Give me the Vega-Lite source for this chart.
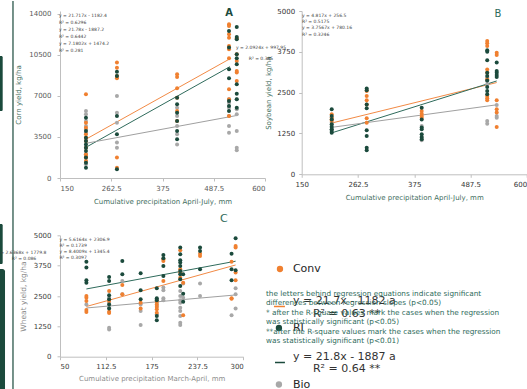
{
"$schema": "https://vega.github.io/schema/vega-lite/v6.json",
"padding": 0,
"autosize": {"type": "pad"},
"background": "white",
"bounds": "flush",
"align": "each",
"columns": 2,
"spacing": {"row": 57.3, "column": 36.7},
"config": {
  "font": "DejaVu Sans",
  "view": {"stroke": null},
  "axis": {"grid": false, "labelOverlap": false, "tickCount": 10, "domainColor": "#BFBFBF", "tickColor": "#BFBFBF", "tickSize": 3, "labelFontSize": 7, "titleFontSize": 7, "titleFontWeight": "normal", "labelFont": "DejaVu Sans", "titleFont": "DejaVu Sans"}
},
"datasets": {
"pts": [
{"p":"A","t":"Bio","x":207,"y":5720},{"p":"A","t":"Bio","x":207,"y":5440},{"p":"A","t":"Bio","x":207,"y":4870},{"p":"A","t":"Bio","x":207,"y":4440},{"p":"A","t":"Bio","x":207,"y":4150},{"p":"A","t":"Bio","x":207,"y":3870},{"p":"A","t":"Bio","x":207,"y":3160},{"p":"A","t":"Bio","x":207,"y":2590},{"p":"A","t":"Bio","x":207,"y":2020},{"p":"A","t":"Bio","x":207,"y":1450},{"p":"A","t":"Bio","x":207,"y":1170},
{"p":"A","t":"Bio","x":275,"y":7000},{"p":"A","t":"Bio","x":275,"y":5580},{"p":"A","t":"Bio","x":275,"y":4720},{"p":"A","t":"Bio","x":275,"y":3020},{"p":"A","t":"Bio","x":275,"y":2590},
{"p":"A","t":"Bio","x":407,"y":6000},{"p":"A","t":"Bio","x":407,"y":5290},{"p":"A","t":"Bio","x":407,"y":4440},{"p":"A","t":"Bio","x":407,"y":3730},{"p":"A","t":"Bio","x":407,"y":2870},
{"p":"A","t":"Bio","x":521,"y":6720},{"p":"A","t":"Bio","x":521,"y":6430},{"p":"A","t":"Bio","x":521,"y":6000},{"p":"A","t":"Bio","x":521,"y":5290},{"p":"A","t":"Bio","x":521,"y":4440},{"p":"A","t":"Bio","x":521,"y":3870},
{"p":"A","t":"Bio","x":538,"y":6720},{"p":"A","t":"Bio","x":538,"y":5860},{"p":"A","t":"Bio","x":538,"y":5440},{"p":"A","t":"Bio","x":538,"y":4010},{"p":"A","t":"Bio","x":538,"y":2590},{"p":"A","t":"Bio","x":538,"y":2360},
{"p":"A","t":"Conv","x":207,"y":7150},{"p":"A","t":"Conv","x":207,"y":4720},{"p":"A","t":"Conv","x":207,"y":4300},{"p":"A","t":"Conv","x":207,"y":3730},{"p":"A","t":"Conv","x":207,"y":3440},{"p":"A","t":"Conv","x":207,"y":3160},{"p":"A","t":"Conv","x":207,"y":2590},{"p":"A","t":"Conv","x":207,"y":2020},{"p":"A","t":"Conv","x":207,"y":1880},{"p":"A","t":"Conv","x":207,"y":1740},{"p":"A","t":"Conv","x":207,"y":1450},
{"p":"A","t":"Conv","x":275,"y":9850},{"p":"A","t":"Conv","x":275,"y":9420},{"p":"A","t":"Conv","x":275,"y":8710},{"p":"A","t":"Conv","x":275,"y":8510},{"p":"A","t":"Conv","x":275,"y":1740},{"p":"A","t":"Conv","x":275,"y":880},
{"p":"A","t":"Conv","x":407,"y":8850},{"p":"A","t":"Conv","x":407,"y":8620},{"p":"A","t":"Conv","x":407,"y":7660},{"p":"A","t":"Conv","x":407,"y":6860},{"p":"A","t":"Conv","x":407,"y":5720},{"p":"A","t":"Conv","x":407,"y":4870},
{"p":"A","t":"Conv","x":521,"y":13120},{"p":"A","t":"Conv","x":521,"y":12980},{"p":"A","t":"Conv","x":521,"y":12270},{"p":"A","t":"Conv","x":521,"y":11980},{"p":"A","t":"Conv","x":521,"y":11270},{"p":"A","t":"Conv","x":521,"y":10990},{"p":"A","t":"Conv","x":521,"y":10220},{"p":"A","t":"Conv","x":521,"y":7570},{"p":"A","t":"Conv","x":521,"y":6720},{"p":"A","t":"Conv","x":521,"y":5290},
{"p":"A","t":"Conv","x":538,"y":11920},{"p":"A","t":"Conv","x":538,"y":10560},{"p":"A","t":"Conv","x":538,"y":9990},{"p":"A","t":"Conv","x":538,"y":9140},{"p":"A","t":"Conv","x":538,"y":9000},{"p":"A","t":"Conv","x":538,"y":8280},
{"p":"A","t":"RI","x":207,"y":5150},{"p":"A","t":"RI","x":207,"y":4010},{"p":"A","t":"RI","x":207,"y":3440},{"p":"A","t":"RI","x":207,"y":3160},{"p":"A","t":"RI","x":207,"y":2870},{"p":"A","t":"RI","x":207,"y":2590},{"p":"A","t":"RI","x":207,"y":2300},{"p":"A","t":"RI","x":207,"y":1740},{"p":"A","t":"RI","x":207,"y":1310},{"p":"A","t":"RI","x":207,"y":880},
{"p":"A","t":"RI","x":275,"y":9080},{"p":"A","t":"RI","x":275,"y":8710},{"p":"A","t":"RI","x":275,"y":5290},{"p":"A","t":"RI","x":275,"y":3730},{"p":"A","t":"RI","x":275,"y":740},
{"p":"A","t":"RI","x":407,"y":6860},{"p":"A","t":"RI","x":407,"y":6290},{"p":"A","t":"RI","x":407,"y":5580},{"p":"A","t":"RI","x":407,"y":4870},{"p":"A","t":"RI","x":407,"y":4010},{"p":"A","t":"RI","x":407,"y":3300},
{"p":"A","t":"RI","x":521,"y":12550},{"p":"A","t":"RI","x":521,"y":11130},{"p":"A","t":"RI","x":521,"y":9280},{"p":"A","t":"RI","x":521,"y":8510},{"p":"A","t":"RI","x":521,"y":6570},{"p":"A","t":"RI","x":521,"y":6150},{"p":"A","t":"RI","x":521,"y":5720},
{"p":"A","t":"RI","x":538,"y":12890},{"p":"A","t":"RI","x":538,"y":12040},{"p":"A","t":"RI","x":538,"y":11840},{"p":"A","t":"RI","x":538,"y":10560},{"p":"A","t":"RI","x":538,"y":10220},{"p":"A","t":"RI","x":538,"y":9700},{"p":"A","t":"RI","x":538,"y":8000},{"p":"A","t":"RI","x":538,"y":7200},{"p":"A","t":"RI","x":538,"y":6720},{"p":"A","t":"RI","x":538,"y":6000},
{"p":"B","t":"Bio","x":210,"y":1735},{"p":"B","t":"Bio","x":210,"y":1580},{"p":"B","t":"Bio","x":210,"y":1480},{"p":"B","t":"Bio","x":210,"y":1380},
{"p":"B","t":"Bio","x":390,"y":1480},{"p":"B","t":"Bio","x":390,"y":1120},{"p":"B","t":"Bio","x":390,"y":1040},
{"p":"B","t":"Bio","x":521,"y":2960},{"p":"B","t":"Bio","x":521,"y":2855},{"p":"B","t":"Bio","x":521,"y":2755},{"p":"B","t":"Bio","x":521,"y":1630},{"p":"B","t":"Bio","x":521,"y":1550},
{"p":"B","t":"Bio","x":540,"y":2120},{"p":"B","t":"Bio","x":540,"y":1785},{"p":"B","t":"Bio","x":540,"y":1735},
{"p":"B","t":"Conv","x":210,"y":1835},{"p":"B","t":"Conv","x":210,"y":1735},{"p":"B","t":"Conv","x":210,"y":1680},{"p":"B","t":"Conv","x":210,"y":1630},
{"p":"B","t":"Conv","x":280,"y":2550},{"p":"B","t":"Conv","x":280,"y":2400},{"p":"B","t":"Conv","x":280,"y":2265},{"p":"B","t":"Conv","x":280,"y":2140},{"p":"B","t":"Conv","x":280,"y":1715},{"p":"B","t":"Conv","x":280,"y":1580},
{"p":"B","t":"Conv","x":390,"y":1940},{"p":"B","t":"Conv","x":390,"y":1855},{"p":"B","t":"Conv","x":390,"y":1785},{"p":"B","t":"Conv","x":390,"y":1735},
{"p":"B","t":"Conv","x":521,"y":4080},{"p":"B","t":"Conv","x":521,"y":4010},{"p":"B","t":"Conv","x":521,"y":3930},{"p":"B","t":"Conv","x":521,"y":3210},{"p":"B","t":"Conv","x":521,"y":3110},{"p":"B","t":"Conv","x":521,"y":2910},{"p":"B","t":"Conv","x":521,"y":2400},{"p":"B","t":"Conv","x":521,"y":2325},{"p":"B","t":"Conv","x":521,"y":2265},
{"p":"B","t":"Conv","x":540,"y":3725},{"p":"B","t":"Conv","x":540,"y":3650},{"p":"B","t":"Conv","x":540,"y":2265},{"p":"B","t":"Conv","x":540,"y":1990},{"p":"B","t":"Conv","x":540,"y":1890},{"p":"B","t":"Conv","x":540,"y":1450},
{"p":"B","t":"RI","x":210,"y":1990},{"p":"B","t":"RI","x":210,"y":1785},{"p":"B","t":"RI","x":210,"y":1680},{"p":"B","t":"RI","x":210,"y":1530},{"p":"B","t":"RI","x":210,"y":1450},{"p":"B","t":"RI","x":210,"y":1380},{"p":"B","t":"RI","x":210,"y":1325},{"p":"B","t":"RI","x":210,"y":1275},
{"p":"B","t":"RI","x":280,"y":2630},{"p":"B","t":"RI","x":280,"y":2570},{"p":"B","t":"RI","x":280,"y":2140},{"p":"B","t":"RI","x":280,"y":2020},{"p":"B","t":"RI","x":280,"y":1350},{"p":"B","t":"RI","x":280,"y":1170},{"p":"B","t":"RI","x":280,"y":815},{"p":"B","t":"RI","x":280,"y":735},
{"p":"B","t":"RI","x":390,"y":2040},{"p":"B","t":"RI","x":390,"y":1680},{"p":"B","t":"RI","x":390,"y":1430},{"p":"B","t":"RI","x":390,"y":1380},{"p":"B","t":"RI","x":390,"y":1225},{"p":"B","t":"RI","x":390,"y":1140},{"p":"B","t":"RI","x":390,"y":1070},
{"p":"B","t":"RI","x":521,"y":3795},{"p":"B","t":"RI","x":521,"y":3755},{"p":"B","t":"RI","x":521,"y":3490},{"p":"B","t":"RI","x":521,"y":3110},{"p":"B","t":"RI","x":521,"y":3010},{"p":"B","t":"RI","x":521,"y":2875},{"p":"B","t":"RI","x":521,"y":2670},{"p":"B","t":"RI","x":521,"y":2550},{"p":"B","t":"RI","x":521,"y":2450},
{"p":"B","t":"RI","x":540,"y":3420},{"p":"B","t":"RI","x":540,"y":3160},{"p":"B","t":"RI","x":540,"y":3110},{"p":"B","t":"RI","x":540,"y":3040},{"p":"B","t":"RI","x":540,"y":2980},
{"p":"C","t":"Bio","x":86,"y":2155},
{"p":"C","t":"Bio","x":117,"y":2430},{"p":"C","t":"Bio","x":117,"y":2225},{"p":"C","t":"Bio","x":117,"y":2020},{"p":"C","t":"Bio","x":117,"y":1195},{"p":"C","t":"Bio","x":117,"y":1125},
{"p":"C","t":"Bio","x":135,"y":3120},{"p":"C","t":"Bio","x":135,"y":2570},
{"p":"C","t":"Bio","x":160,"y":2155},{"p":"C","t":"Bio","x":160,"y":1880},{"p":"C","t":"Bio","x":160,"y":1305},
{"p":"C","t":"Bio","x":182,"y":2365},{"p":"C","t":"Bio","x":182,"y":2225},{"p":"C","t":"Bio","x":182,"y":2090},{"p":"C","t":"Bio","x":182,"y":1745},
{"p":"C","t":"Bio","x":191,"y":2845},{"p":"C","t":"Bio","x":191,"y":2735},{"p":"C","t":"Bio","x":191,"y":2405},{"p":"C","t":"Bio","x":191,"y":2320},
{"p":"C","t":"Bio","x":214,"y":2705},{"p":"C","t":"Bio","x":214,"y":2500},{"p":"C","t":"Bio","x":214,"y":2320},{"p":"C","t":"Bio","x":214,"y":2225},{"p":"C","t":"Bio","x":214,"y":2020},{"p":"C","t":"Bio","x":214,"y":1880},{"p":"C","t":"Bio","x":214,"y":1675},{"p":"C","t":"Bio","x":214,"y":1400},{"p":"C","t":"Bio","x":214,"y":1305},
{"p":"C","t":"Bio","x":218,"y":3010},{"p":"C","t":"Bio","x":218,"y":2430},
{"p":"C","t":"Bio","x":241,"y":3010},{"p":"C","t":"Bio","x":241,"y":2500},
{"p":"C","t":"Bio","x":284,"y":1705},
{"p":"C","t":"Bio","x":289.5,"y":2815},{"p":"C","t":"Bio","x":289.5,"y":2570},{"p":"C","t":"Bio","x":289.5,"y":1990},
{"p":"C","t":"Conv","x":86,"y":2500},{"p":"C","t":"Conv","x":86,"y":2430},{"p":"C","t":"Conv","x":86,"y":2295},{"p":"C","t":"Conv","x":86,"y":1925},{"p":"C","t":"Conv","x":86,"y":1840},
{"p":"C","t":"Conv","x":117,"y":2705},{"p":"C","t":"Conv","x":117,"y":2295},{"p":"C","t":"Conv","x":117,"y":1855},{"p":"C","t":"Conv","x":117,"y":1800},
{"p":"C","t":"Conv","x":135,"y":2955},{"p":"C","t":"Conv","x":135,"y":2570},
{"p":"C","t":"Conv","x":160,"y":2225},{"p":"C","t":"Conv","x":160,"y":1990},
{"p":"C","t":"Conv","x":182,"y":2265},{"p":"C","t":"Conv","x":182,"y":2155},{"p":"C","t":"Conv","x":182,"y":2045},{"p":"C","t":"Conv","x":182,"y":1950},{"p":"C","t":"Conv","x":182,"y":1815},
{"p":"C","t":"Conv","x":191,"y":4010},{"p":"C","t":"Conv","x":191,"y":3945},{"p":"C","t":"Conv","x":191,"y":3120},
{"p":"C","t":"Conv","x":214,"y":4385},{"p":"C","t":"Conv","x":214,"y":3600},{"p":"C","t":"Conv","x":214,"y":3465},{"p":"C","t":"Conv","x":214,"y":3255},
{"p":"C","t":"Conv","x":218,"y":3050},{"p":"C","t":"Conv","x":218,"y":1705},
{"p":"C","t":"Conv","x":241,"y":4245},{"p":"C","t":"Conv","x":241,"y":4150},
{"p":"C","t":"Conv","x":284,"y":3915},{"p":"C","t":"Conv","x":284,"y":2405},{"p":"C","t":"Conv","x":284,"y":2390},
{"p":"C","t":"Conv","x":289.5,"y":4560},{"p":"C","t":"Conv","x":289.5,"y":4495},{"p":"C","t":"Conv","x":289.5,"y":3465},{"p":"C","t":"Conv","x":289.5,"y":3145},
{"p":"C","t":"RI","x":86,"y":3915},{"p":"C","t":"RI","x":86,"y":3670},{"p":"C","t":"RI","x":86,"y":3145},{"p":"C","t":"RI","x":86,"y":3050},
{"p":"C","t":"RI","x":117,"y":3285},{"p":"C","t":"RI","x":117,"y":3120},{"p":"C","t":"RI","x":117,"y":2530},{"p":"C","t":"RI","x":117,"y":2365},{"p":"C","t":"RI","x":117,"y":2155},{"p":"C","t":"RI","x":117,"y":1990},
{"p":"C","t":"RI","x":135,"y":3945},{"p":"C","t":"RI","x":135,"y":3395},
{"p":"C","t":"RI","x":160,"y":3435},{"p":"C","t":"RI","x":160,"y":2735},{"p":"C","t":"RI","x":160,"y":2365},
{"p":"C","t":"RI","x":182,"y":2815},{"p":"C","t":"RI","x":182,"y":2405},{"p":"C","t":"RI","x":182,"y":2320},{"p":"C","t":"RI","x":182,"y":1675},{"p":"C","t":"RI","x":182,"y":1500},
{"p":"C","t":"RI","x":191,"y":4190},{"p":"C","t":"RI","x":191,"y":4055},{"p":"C","t":"RI","x":191,"y":3740},{"p":"C","t":"RI","x":191,"y":3325},
{"p":"C","t":"RI","x":214,"y":4495},{"p":"C","t":"RI","x":214,"y":4220},{"p":"C","t":"RI","x":214,"y":3970},{"p":"C","t":"RI","x":214,"y":3875},{"p":"C","t":"RI","x":214,"y":3740},{"p":"C","t":"RI","x":214,"y":3530},{"p":"C","t":"RI","x":214,"y":3395},{"p":"C","t":"RI","x":214,"y":3190},{"p":"C","t":"RI","x":214,"y":2915},
{"p":"C","t":"RI","x":218,"y":3395},{"p":"C","t":"RI","x":218,"y":2595},{"p":"C","t":"RI","x":218,"y":2265},
{"p":"C","t":"RI","x":241,"y":4495},{"p":"C","t":"RI","x":241,"y":4355},{"p":"C","t":"RI","x":241,"y":3600},
{"p":"C","t":"RI","x":284,"y":4245},{"p":"C","t":"RI","x":284,"y":3600},{"p":"C","t":"RI","x":284,"y":3145},
{"p":"C","t":"RI","x":289.5,"y":4880},{"p":"C","t":"RI","x":289.5,"y":3560}
],
"lines": [
{"p":"A","t":"Conv","x":207,"y":3313},{"p":"A","t":"Conv","x":523,"y":10176},
{"p":"A","t":"RI","x":207,"y":2621},{"p":"A","t":"RI","x":523,"y":9504},
{"p":"A","t":"Bio","x":207,"y":2960},{"p":"A","t":"Bio","x":538,"y":5337},
{"p":"B","t":"Conv","x":210,"y":1569},{"p":"B","t":"Conv","x":540,"y":2809},
{"p":"B","t":"RI","x":210,"y":1268},{"p":"B","t":"RI","x":540,"y":2858},
{"p":"B","t":"Bio","x":210,"y":1437},{"p":"B","t":"Bio","x":540,"y":2128},
{"p":"C","t":"Conv","x":86,"y":2068},{"p":"C","t":"Conv","x":289.5,"y":3777},
{"p":"C","t":"RI","x":86,"y":2790},{"p":"C","t":"RI","x":289.5,"y":3933},
{"p":"C","t":"Bio","x":86,"y":2007},{"p":"C","t":"Bio","x":289.5,"y":2543}
]
},
"concat": [
{
"width": 205, "height": 167,
"layer": [
  {"data": {"name": "lines"}, "transform": [{"filter": "datum.p === 'A'"}],
   "mark": {"type": "line", "strokeWidth": 1},
   "encoding": {
     "x": {"field": "x", "type": "quantitative", "scale": {"domain": [150, 600], "nice": false, "zero": false},
           "axis": {"values": [150, 262.5, 375, 487.5, 600], "tickCount": 10, "format": ".1~f", "labelOverlap": false, "title": "Cumulative precipitation April-July, mm", "titleColor": "#3F6E5E", "labelColor": "#595959", "labelPadding": 3, "titlePadding": 6}},
     "y": {"field": "y", "type": "quantitative", "scale": {"domain": [0, 14256], "nice": false},
           "axis": {"values": [0, 3500, 7000, 10500, 14000], "tickCount": 10, "format": "d", "labelOverlap": false, "title": "Corn yield, kg/ha", "titleColor": "#3F6E5E", "labelColor": "#595959", "labelPadding": 6, "titlePadding": 7}},
     "stroke": {"field": "t", "type": "nominal", "scale": {"domain": ["Conv", "RI", "Bio"], "range": ["#F28A45", "#2F6B5C", "#A0A0A0"]}, "legend": null}}},
  {"data": {"name": "pts"}, "transform": [{"filter": "datum.p === 'A'"}],
   "mark": {"type": "circle", "size": 16, "opacity": 1},
   "encoding": {
     "x": {"field": "x", "type": "quantitative"},
     "y": {"field": "y", "type": "quantitative"},
     "fill": {"field": "t", "type": "nominal", "scale": {"domain": ["Conv", "RI", "Bio"], "range": ["#F08030", "#1B4A3C", "#A8A8A8"]}, "legend": null}}},
  {"data": {"values": [{"k": 1}]}, "mark": {"type": "rule", "color": "#1B4A3C", "strokeWidth": 1.2},
   "encoding": {"x": {"datum": 46.8}, "y": {"datum": 15110}, "y2": {"datum": -18098}}},
  {"data": {"values": [{"k": 1}]}, "mark": {"type": "rect", "color": "#1B4A3C", "cornerRadiusTopRight": 2, "cornerRadiusBottomRight": 2},
   "encoding": {"x": {"datum": 18.3}, "x2": {"datum": 24.2}, "y": {"datum": 10415}, "y2": {"datum": 5720}}},
  {"data": {"values": [{"k": 1}]}, "mark": {"type": "rect", "color": "#1B4A3C", "cornerRadiusTopRight": 2, "cornerRadiusBottomRight": 2},
   "encoding": {"x": {"datum": 18.3}, "x2": {"datum": 24.2}, "y": {"datum": -3927}, "y2": {"datum": -7342}}},
  {"data": {"values": [{"k": 1}]}, "mark": {"type": "rect", "color": "#1B4A3C", "cornerRadiusTopRight": 5},
   "encoding": {"x": {"datum": 18.3}, "x2": {"datum": 29.3}, "y": {"datum": -7769}, "y2": {"datum": -18098}}},
  {"data": {"values": [{"k": 1}]}, "mark": {"type": "text", "align": "left", "baseline": "top", "fontSize": 4.5, "lineHeight": 7, "color": "#404040",
     "text": ["y = 21.717x - 1182.4", "R² = 0.6296", "y = 21.78x - 1887.2", "R² = 0.6442", "y = 7.1802x + 1474.2", "R² = 0.281"]},
   "encoding": {"x": {"datum": 147.8}, "y": {"datum": 14112}}},
  {"data": {"values": [{"k": 1}]}, "mark": {"type": "text", "align": "center", "baseline": "middle", "fontSize": 10, "fontWeight": "bold", "color": "#1B4A3C", "text": "A"},
   "encoding": {"x": {"datum": 521}, "y": {"datum": 14086}}}
]
},
{
"width": 225, "height": 163.3,
"layer": [
  {"data": {"name": "lines"}, "transform": [{"filter": "datum.p === 'B'"}],
   "mark": {"type": "line", "strokeWidth": 1},
   "encoding": {
     "x": {"field": "x", "type": "quantitative", "scale": {"domain": [150, 600], "nice": false, "zero": false},
           "axis": {"values": [150, 262.5, 375, 487.5, 600], "tickCount": 10, "format": ".1~f", "labelOverlap": false, "title": "Cumulative precipitation April-July, mm", "titleColor": "#3F6E5E", "labelColor": "#333333", "labelPadding": 3, "titlePadding": 6,
                    "labelAlign": {"condition": {"test": "datum.value === 600", "value": "right"}, "value": "center"}}},
     "y": {"field": "y", "type": "quantitative", "scale": {"domain": [0, 5000], "nice": false},
           "axis": {"values": [0, 1250, 2500, 3750, 5000], "tickCount": 10, "format": "d", "labelOverlap": false, "title": "Soybean yield, kg/ha", "titleColor": "#3F6E5E", "labelColor": "#333333", "labelPadding": 4, "titlePadding": 5}},
     "stroke": {"field": "t", "type": "nominal", "scale": {"domain": ["Conv", "RI", "Bio"], "range": ["#F28A45", "#2F6B5C", "#A0A0A0"]}, "legend": null}}},
  {"data": {"name": "pts"}, "transform": [{"filter": "datum.p === 'B'"}],
   "mark": {"type": "circle", "size": 16, "opacity": 1},
   "encoding": {
     "x": {"field": "x", "type": "quantitative"},
     "y": {"field": "y", "type": "quantitative"},
     "fill": {"field": "t", "type": "nominal", "scale": {"domain": ["Conv", "RI", "Bio"], "range": ["#F08030", "#1B4A3C", "#A8A8A8"]}, "legend": null}}},
  {"data": {"values": [{"k": 1}]}, "mark": {"type": "text", "align": "left", "baseline": "top", "fontSize": 4.5, "lineHeight": 6.3, "color": "#404040",
     "text": ["y = 4.817x + 256.5", "R² = 0.5175", "y = 3.7567x + 780.16", "R² = 0.3246"]},
   "encoding": {"x": {"datum": 150.6}, "y": {"datum": 4948}}},
  {"data": {"values": [{"k": 1}]}, "mark": {"type": "text", "align": "center", "baseline": "top", "fontSize": 4.5, "lineHeight": 11, "color": "#404040",
     "text": ["y = 2.0924x + 997.95", "R² = 0.385"]},
   "encoding": {"x": {"datum": 68.6}, "y": {"datum": 3968}}},
  {"data": {"values": [{"k": 1}]}, "mark": {"type": "text", "align": "center", "baseline": "middle", "fontSize": 10, "color": "#2E6B5B", "text": "B"},
   "encoding": {"x": {"datum": 542.6}, "y": {"datum": 4908}}}
]
},
{
"width": 183.3, "height": 121.4,
"layer": [
  {"data": {"name": "lines"}, "transform": [{"filter": "datum.p === 'C'"}],
   "mark": {"type": "line", "strokeWidth": 1},
   "encoding": {
     "x": {"field": "x", "type": "quantitative", "scale": {"domain": [50, 300], "nice": false, "zero": false},
           "axis": {"values": [50, 112.5, 175, 237.5, 300], "tickCount": 10, "format": ".1~f", "labelOverlap": false, "title": "Cumulative precipitation March-April, mm", "titleColor": "#8C8C8C", "labelColor": "#404040", "labelPadding": 3, "titlePadding": 5}},
     "y": {"field": "y", "type": "quantitative", "scale": {"domain": [0, 5000], "nice": false},
           "axis": {"values": [0, 1250, 2500, 3750, 5000], "tickCount": 10, "format": "d", "labelOverlap": false, "title": "Wheat yield, kg/ha", "titleColor": "#8C8C8C", "titleFontSize": 7.5, "labelColor": "#404040", "labelPadding": 6, "titlePadding": 6}},
     "stroke": {"field": "t", "type": "nominal", "scale": {"domain": ["Conv", "RI", "Bio"], "range": ["#F28A45", "#2F6B5C", "#A0A0A0"]}, "legend": null}}},
  {"data": {"name": "pts"}, "transform": [{"filter": "datum.p === 'C'"}],
   "mark": {"type": "circle", "size": 16, "opacity": 1},
   "encoding": {
     "x": {"field": "x", "type": "quantitative"},
     "y": {"field": "y", "type": "quantitative"},
     "fill": {"field": "t", "type": "nominal", "scale": {"domain": ["Conv", "RI", "Bio"], "range": ["#F08030", "#1B4A3C", "#A8A8A8"]}, "legend": null}}},
  {"data": {"values": [{"k": 1}]}, "mark": {"type": "text", "align": "left", "baseline": "top", "fontSize": 4.5, "lineHeight": 6, "color": "#404040",
     "text": ["y = 5.6164x + 2306.9", "R² = 0.1739", "y = 8.4009x + 1345.4", "R² = 0.3097"]},
   "encoding": {"x": {"datum": 49.3}, "y": {"datum": 4942}}},
  {"data": {"values": [{"k": 1}]}, "mark": {"type": "text", "align": "left", "baseline": "middle", "fontSize": 4.5, "color": "#404040", "text": "= 2.6368x + 1779.8"},
   "encoding": {"x": {"datum": -31.4}, "y": {"datum": 4283}}},
  {"data": {"values": [{"k": 1}]}, "mark": {"type": "text", "align": "center", "baseline": "middle", "fontSize": 4.5, "color": "#404040", "text": "R² = 0.086"},
   "encoding": {"x": {"datum": 0.9}, "y": {"datum": 4036}}},
  {"data": {"values": [{"k": 1}]}, "mark": {"type": "text", "align": "center", "baseline": "middle", "fontSize": 11, "color": "#2E6B5B", "text": "C"},
   "encoding": {"x": {"datum": 273.6}, "y": {"datum": 5671}}},
  {"data": {"values": [{"k": 1}]}, "mark": {"type": "point", "filled": true, "shape": "circle", "size": 40, "color": "#F08030", "opacity": 1},
   "encoding": {"x": {"datum": 350.0}, "y": {"datum": 3612}}},
  {"data": {"values": [{"k": 1}]}, "mark": {"type": "point", "filled": true, "shape": "circle", "size": 40, "color": "#1B4A3C", "opacity": 1},
   "encoding": {"x": {"datum": 348.6}, "y": {"datum": 1182}}},
  {"data": {"values": [{"k": 1}]}, "mark": {"type": "point", "filled": true, "shape": "circle", "size": 40, "color": "#A8A8A8", "opacity": 1},
   "encoding": {"x": {"datum": 348.6}, "y": {"datum": -1145}}},
  {"data": {"values": [{"k": 1}]}, "mark": {"type": "rule", "color": "#F08030", "strokeWidth": 1.5},
   "encoding": {"x": {"datum": 341.8}, "x2": {"datum": 356.8}, "y": {"datum": 2068}}},
  {"data": {"values": [{"k": 1}]}, "mark": {"type": "rule", "color": "#1B4A3C", "strokeWidth": 1.5},
   "encoding": {"x": {"datum": 343.2}, "x2": {"datum": 356.8}, "y": {"datum": -239}}},
  {"data": {"values": [{"k": 1}]}, "mark": {"type": "text", "align": "left", "baseline": "middle", "fontSize": 11, "color": "#262626", "text": "Conv"},
   "encoding": {"x": {"datum": 367.7}, "y": {"datum": 3612}}},
  {"data": {"values": [{"k": 1}]}, "mark": {"type": "text", "align": "left", "baseline": "middle", "fontSize": 11, "color": "#262626", "text": "RI"},
   "encoding": {"x": {"datum": 367.7}, "y": {"datum": 1182}}},
  {"data": {"values": [{"k": 1}]}, "mark": {"type": "text", "align": "left", "baseline": "middle", "fontSize": 11, "color": "#262626", "text": "Bio"},
   "encoding": {"x": {"datum": 367.7}, "y": {"datum": -1145}}},
  {"data": {"values": [{"k": 1}]}, "mark": {"type": "text", "align": "left", "baseline": "middle", "fontSize": 11, "color": "#333333", "text": "y = 21.7x - 1182 a"},
   "encoding": {"x": {"datum": 367.7}, "y": {"datum": 2294}}},
  {"data": {"values": [{"k": 1}]}, "mark": {"type": "text", "align": "left", "baseline": "middle", "fontSize": 11, "color": "#333333", "text": "R² = 0.63 **"},
   "encoding": {"x": {"datum": 395.0}, "y": {"datum": 1779}}},
  {"data": {"values": [{"k": 1}]}, "mark": {"type": "text", "align": "left", "baseline": "middle", "fontSize": 11, "color": "#333333", "text": "y = 21.8x - 1887 a"},
   "encoding": {"x": {"datum": 367.7}, "y": {"datum": -12}}},
  {"data": {"values": [{"k": 1}]}, "mark": {"type": "text", "align": "left", "baseline": "middle", "fontSize": 11, "color": "#333333", "text": "R² = 0.64 **"},
   "encoding": {"x": {"datum": 395.0}, "y": {"datum": -527}}},
  {"data": {"values": [{"k": 1}]}, "mark": {"type": "text", "align": "left", "baseline": "top", "fontSize": 7.3, "lineHeight": 9.4, "color": "#2E6B5B",
     "text": ["the letters behind regression equations indicate significant", "differences between regression slopes (p<0.05)", "* after the R-square values mark the cases when the regression", "was statistically significant (p<0.05)", "**after the R-square values mark the cases when the regression", "was statistically significant (p<0.01)"]},
   "encoding": {"x": {"datum": 330.9}, "y": {"datum": 2747}}}
]
}
]
}
